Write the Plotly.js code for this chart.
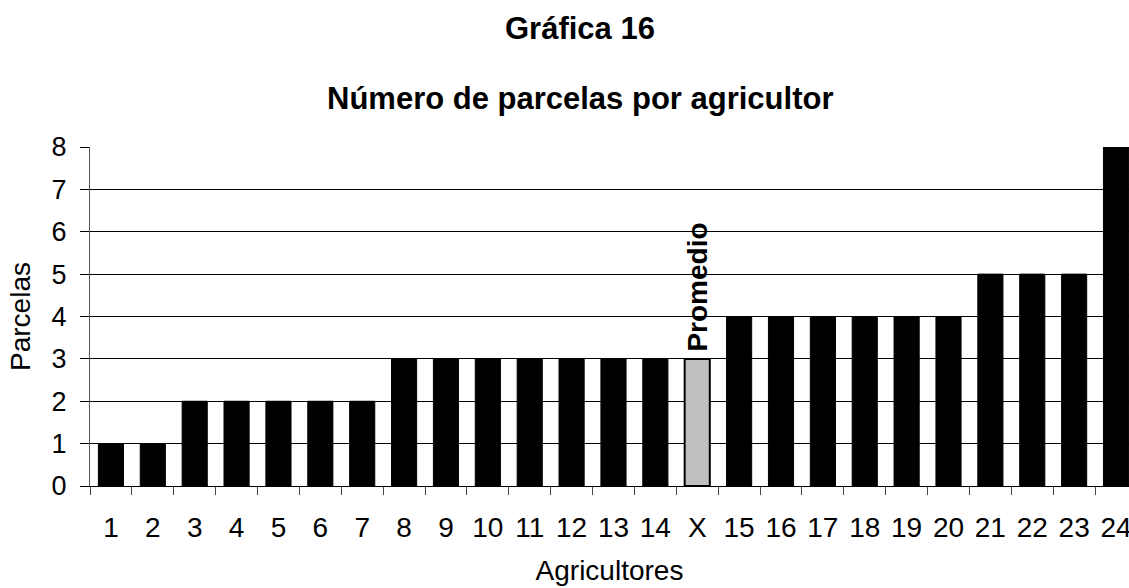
<!DOCTYPE html>
<html>
<head>
<meta charset="utf-8">
<script src="https://cdn.plot.ly/plotly-3.0.1.min.js"></script>
<style>html,body{margin:0;padding:0;background:#fff;}#chart{width:1129px;height:588px;}</style>
</head>
<body>
<div id="chart"></div>
<script>
var categories = ["1","2","3","4","5","6","7","8","9","10","11","12","13","14","X","15","16","17","18","19","20","21","22","23","24"];
var parcelas = [1,1,2,2,2,2,2,3,3,3,3,3,3,3,3,4,4,4,4,4,4,5,5,5,8];
var averageCategory = "X";
var averageLabel = "Promedio";
var chartTitle = "Gráfica 16";
var chartSubtitle = "Número de parcelas por agricultor";
var xTitle = "Agricultores";
var yTitle = "Parcelas";

var colors = categories.map(function(c){ return c === averageCategory ? "#c0c0c0" : "#000000"; });
var lineWidths = categories.map(function(c){ return c === averageCategory ? 2 : 1; });
var avgValue = parcelas[categories.indexOf(averageCategory)];

var font = "Liberation Sans, Arial, sans-serif";

var trace = {
  type: "bar",
  x: categories,
  y: parcelas,
  width: 0.6,
  marker: { color: colors, line: { color: "#000000", width: lineWidths } },
  hoverinfo: "x+y"
};

var layout = {
  width: 1129,
  height: 588,
  margin: { l: 90, r: 0, t: 147, b: 102, pad: 0 },
  paper_bgcolor: "#ffffff",
  plot_bgcolor: "#ffffff",
  showlegend: false,
  font: { family: font, color: "#000000", size: 28 },
  xaxis: {
    type: "category",
    range: [-0.5, 24.31],
    tickson: "boundaries",
    ticks: "outside",
    ticklen: 8,
    tickcolor: "#444444",
    tickwidth: 1,
    ticklabelstandoff: 16,
    showline: true,
    linecolor: "#000000",
    linewidth: 1,
    showgrid: false,
    tickfont: { family: font, size: 28, color: "#000000" },
    title: { text: xTitle, font: { family: font, size: 28, color: "#000000" }, standoff: 18 }
  },
  yaxis: {
    range: [0, 8],
    dtick: 1,
    ticks: "outside",
    ticklen: 9,
    tickcolor: "#000000",
    ticklabelstandoff: 8,
    showline: true,
    linecolor: "#555555",
    linewidth: 1,
    showgrid: true,
    gridcolor: "#000000",
    gridwidth: 1,
    zeroline: false,
    tickfont: { family: font, size: 27, color: "#000000" },
    title: { text: yTitle, font: { family: font, size: 28, color: "#000000" }, standoff: 12 }
  },
  annotations: [
    {
      text: "<b>" + chartTitle + "</b>",
      xref: "paper", yref: "paper",
      x: 0.4716, y: 1.351,
      xanchor: "center", yanchor: "middle",
      showarrow: false,
      font: { family: font, size: 31, color: "#000000" }
    },
    {
      text: "<b>" + chartSubtitle + "</b>",
      xref: "paper", yref: "paper",
      x: 0.4716, y: 1.1445,
      xanchor: "center", yanchor: "middle",
      showarrow: false,
      font: { family: font, size: 31, color: "#000000" }
    },
    {
      text: "<b>" + averageLabel + "</b>",
      xref: "x", yref: "y",
      x: averageCategory, y: avgValue,
      xanchor: "center", yanchor: "bottom",
      textangle: -90,
      yshift: 5,
      showarrow: false,
      font: { family: font, size: 28, color: "#000000" }
    }
  ]
};

Plotly.newPlot("chart", [trace], layout, { displayModeBar: false, staticPlot: true });
</script>
</body>
</html>
